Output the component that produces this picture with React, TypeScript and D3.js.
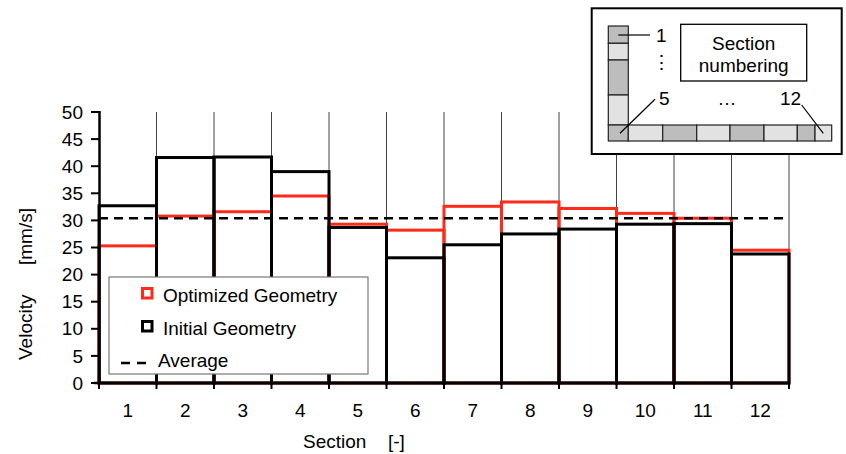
import React from 'react';
import * as d3 from 'd3';

const sections = ['1', '2', '3', '4', '5', '6', '7', '8', '9', '10', '11', '12'];
const optimized = [25.3, 30.8, 31.6, 34.5, 29.3, 28.2, 32.6, 33.4, 32.2, 31.3, 30.4, 24.5];
const initial = [32.7, 41.6, 41.7, 39.0, 28.7, 23.1, 25.5, 27.5, 28.4, 29.3, 29.4, 23.8];
const average = 30.4;
const yTicks = [0, 5, 10, 15, 20, 25, 30, 35, 40, 45, 50];
const legendItems = ['Optimized Geometry', 'Initial Geometry', 'Average'];

// inset schematic: cell sizes and shades
const insetColCells = [17.3, 16.7, 35, 30];
const insetColShade = [1, 0, 1, 0];
const insetRowCells = [20, 34.4, 34, 33.3, 34, 33.3, 17.7, 16.7];
const insetRowShade = [1, 0, 1, 0, 1, 0, 1, 0];

const W = 846;
const H = 454;
const FONT = 'Liberation Sans, Arial, Helvetica, sans-serif';

export default function App() {
  const x = d3.scaleBand<string>().domain(sections).range([99, 789]).padding(0);
  const y = d3.scaleLinear().domain([0, 50]).range([383, 112]);
  const bw = x.bandwidth();
  const boundaries = sections.map((s) => (x(s) as number) + bw);

  const dark = '#bdbdbd';
  const light = '#e2e2e2';
  const ix = 608.3;
  const iy = 26;
  let cy = iy;
  const colRects = insetColCells.map((h, i) => {
    const r = { y: cy, h, shade: insetColShade[i] };
    cy += h;
    return r;
  });
  let cx = ix;
  const rowRects = insetRowCells.map((w, i) => {
    const r = { x: cx, w, shade: insetRowShade[i] };
    cx += w;
    return r;
  });

  return (
    <svg
      width={W}
      height={H}
      style={{ position: 'absolute', left: 0, top: 0, background: '#fff' }}
      fontFamily={FONT}
    >
      <rect x={0} y={0} width={W} height={H} fill="#fff" />
      {/* vertical grid lines */}
      {boundaries.map((bx, i) => (
        <line key={'g' + i} x1={bx} x2={bx} y1={y(50)} y2={y(0)} stroke="#444" strokeWidth={1} />
      ))}

      {/* optimized (red) */}
      {sections.map((s, i) => (
        <rect
          key={'o' + s}
          x={x(s)}
          y={y(optimized[i])}
          width={bw}
          height={y(0) - y(optimized[i])}
          fill="none"
          stroke="#ff2a1a"
          strokeWidth={3}
        />
      ))}
      {/* initial (black) */}
      {sections.map((s, i) => (
        <rect
          key={'i' + s}
          x={x(s)}
          y={y(initial[i])}
          width={bw}
          height={y(0) - y(initial[i])}
          fill="none"
          stroke="#000"
          strokeWidth={3}
        />
      ))}
      {/* average */}
      <line
        x1={99}
        x2={789}
        y1={y(average)}
        y2={y(average)}
        stroke="#000"
        strokeWidth={2.5}
        strokeDasharray="9,6"
      />

      {/* axes */}
      <line x1={99.5} x2={99.5} y1={y(50) - 1} y2={y(0) + 1} stroke="#000" strokeWidth={2.5} />
      <line x1={94} x2={789} y1={y(0)} y2={y(0)} stroke="#000" strokeWidth={2.5} />
      {yTicks.map((t) => (
        <g key={'yt' + t}>
          <line x1={91} x2={99.5} y1={y(t)} y2={y(t)} stroke="#000" strokeWidth={2} />
          <text x={83} y={y(t)} dy="0.35em" textAnchor="end" fontSize={19} fill="#000">
            {t}
          </text>
        </g>
      ))}
      {[99].concat(boundaries).map((bx, i) => (
        <line key={'xt' + i} x1={bx} x2={bx} y1={379} y2={389} stroke="#000" strokeWidth={2} />
      ))}
      {sections.map((s) => (
        <text
          key={'xl' + s}
          x={(x(s) as number) + bw / 2}
          y={410}
          dy="0.35em"
          textAnchor="middle"
          fontSize={19}
          fill="#000"
        >
          {s}
        </text>
      ))}
      <text x={303} y={448} fontSize={19} fill="#000">Section</text>
      <text x={388} y={448} fontSize={19} fill="#000">[-]</text>
      <text transform="translate(32,360) rotate(-90)" fontSize={19} fill="#000">Velocity</text>
      <text transform="translate(32,208) rotate(-90)" textAnchor="end" fontSize={19} fill="#000">
        [mm/s]
      </text>

      {/* legend */}
      <rect x={109} y={277} width={259} height={97} fill="#fff" stroke="#777" strokeWidth={1.2} />
      <rect x={142.5} y={288.5} width={9.5} height={9.5} fill="#fff" stroke="#ff2a1a" strokeWidth={3} />
      <text x={163} y={295} dy="0.35em" fontSize={19} fill="#000">{legendItems[0]}</text>
      <rect x={142.5} y={321.5} width={9.5} height={9.5} fill="#fff" stroke="#000" strokeWidth={3} />
      <text x={163} y={328} dy="0.35em" fontSize={19} fill="#000">{legendItems[1]}</text>
      <line x1={121} x2={150} y1={363} y2={363} stroke="#000" strokeWidth={2.5} strokeDasharray="9,7" />
      <text x={158} y={360} dy="0.35em" fontSize={19} fill="#000">{legendItems[2]}</text>

      {/* inset */}
      <rect x={591.7} y={8.3} width={250} height={145.7} fill="#fff" stroke="#000" strokeWidth={2} />
      {colRects.map((r, i) => (
        <rect
          key={'ic' + i}
          x={ix}
          y={r.y}
          width={20}
          height={r.h}
          fill={r.shade ? dark : light}
          stroke="#222"
          strokeWidth={1.2}
        />
      ))}
      {rowRects.map((r, i) => (
        <rect
          key={'ir' + i}
          x={r.x}
          y={125}
          width={r.w}
          height={16}
          fill={r.shade ? dark : light}
          stroke="#222"
          strokeWidth={1.2}
        />
      ))}
      <rect x={680.7} y={24.3} width={126} height={56.7} fill="#fff" stroke="#000" strokeWidth={1.3} />
      <text x={743.7} y={43.3} dy="0.35em" textAnchor="middle" fontSize={19} fill="#000">Section</text>
      <text x={743.7} y={65} dy="0.35em" textAnchor="middle" fontSize={19} fill="#000">numbering</text>
      <line x1={618.3} x2={650} y1={35} y2={35} stroke="#000" strokeWidth={1.2} />
      <text x={656} y={35} dy="0.35em" fontSize={19} fill="#000">1</text>
      <text x={661} y={62} dy="0.35em" textAnchor="middle" fontSize={19} fill="#000">⋮</text>
      <line x1={620} x2={655} y1={133.3} y2={99.3} stroke="#000" strokeWidth={1.2} />
      <text x={659} y={98} dy="0.35em" fontSize={19} fill="#000">5</text>
      <text x={727} y={98} dy="0.35em" textAnchor="middle" fontSize={19} fill="#000">…</text>
      <text x={780} y={98} dy="0.35em" fontSize={19} fill="#000">12</text>
      <line x1={801.7} x2={823.3} y1={105} y2={133.3} stroke="#000" strokeWidth={1.2} />
    </svg>
  );
}
